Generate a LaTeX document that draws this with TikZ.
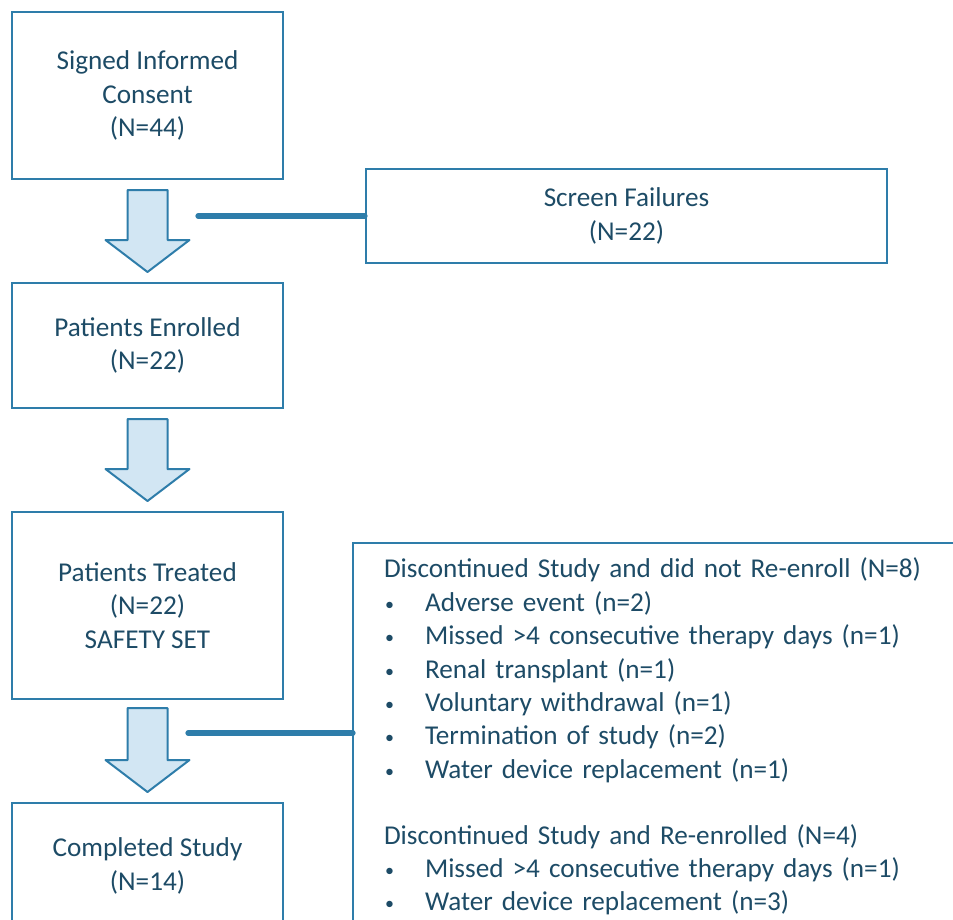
\documentclass[tikz,border=0pt]{standalone}
\usepackage{fontspec}
\setmainfont{Carlito}
\usetikzlibrary{calc}
\definecolor{boxblue}{HTML}{2E7DAA}
\definecolor{arrowfill}{HTML}{D2E6F3}
\definecolor{textblue}{HTML}{1D4B66}
\tikzset{
	flowbox/.style={draw=boxblue, line width=1pt, text=textblue, align=center, minimum width=135.5pt, font=\fontsize{13.6}{16.7}\selectfont},
	arrowbox/.style={draw=boxblue, line width=1pt, fill=arrowfill, line join=round},
	link/.style={draw=boxblue, line width=2.6pt, line cap=round}
}
\def\blockarrow#1#2{\draw[arrowbox] ($#1+(-20,0)$) -- ($#1+(20,0)$) -- ($#2+(20,-32)$) -- ($#2+(42,-32)$) -- #2 -- ($#2+(-42,-32)$) -- ($#2+(-20,-32)$) -- cycle;}
\def\itm#1{\makebox[20.5pt][l]{\hspace{0.5pt}\raisebox{0.5pt}{\fontsize{9}{9}\selectfont\textbullet}}#1}

\begin{document}
\begin{tikzpicture}[x=0.5pt, y=-0.5pt]
		%%%%% START %%%%%
		\useasboundingbox (0, 0) rectangle (953, 920);
		\clip (0, 0) rectangle (953, 920);
		
		\node[flowbox, minimum height=83.5pt] (consent) at (147.5, 95.5) {Signed Informed\\Consent\\(N=44)};
		\node[flowbox, minimum height=62.5pt] (enrolled) at (147.5, 345.5) {Patients Enrolled\\(N=22)};
		\node[flowbox, minimum height=93.5pt] (treated) at (147.5, 605.5) {Patients Treated\\(N=22)\\SAFETY SET};
		\node[flowbox, minimum height=63pt] (completed) at (147.5, 866) {Completed Study\\(N=14)};
		
		\node[flowbox, minimum width=260.5pt, minimum height=47pt] (fail) at (626.5, 216) {Screen Failures\\(N=22)};
		
		\node[flowbox, draw=none, anchor=north west, align=left, text width=300pt, inner xsep=15pt, inner ysep=7pt] (drop) at (353, 543) {%
			Discontinued Study and did not Re-enroll (N=8)\\
			\itm{Adverse event (n=2)}\\
			\itm{Missed >4 consecutive therapy days (n=1)}\\
			\itm{Renal transplant (n=1)}\\
			\itm{Voluntary withdrawal (n=1)}\\
			\itm{Termination of study (n=2)}\\
			\itm{Water device replacement (n=1)}\\[16.2pt]
			Discontinued Study and Re-enrolled (N=4)\\
			\itm{Missed >4 consecutive therapy days (n=1)}\\
			\itm{Water device replacement (n=3)}};
		\draw[boxblue, line width=1pt] (drop.north west) rectangle ($(drop.south east)+(0,30)$);
		
		\blockarrow{($(consent.south)+(0,10)$)}{($(enrolled.north)+(0,-10)$)}
		\blockarrow{($(enrolled.south)+(0,10)$)}{($(treated.north)+(0,-10)$)}
		\blockarrow{($(treated.south)+(0,8)$)}{($(completed.north)+(0,-10)$)}
		
		\coordinate (c1) at (198, 216);
		\draw[link] (c1) -- (fail.west);
		\coordinate (c2) at (188, 733);
		\draw[link] (c2) -- (c2 -| drop.west);
		%%%%% END %%%%%
	\end{tikzpicture}
\end{document}
